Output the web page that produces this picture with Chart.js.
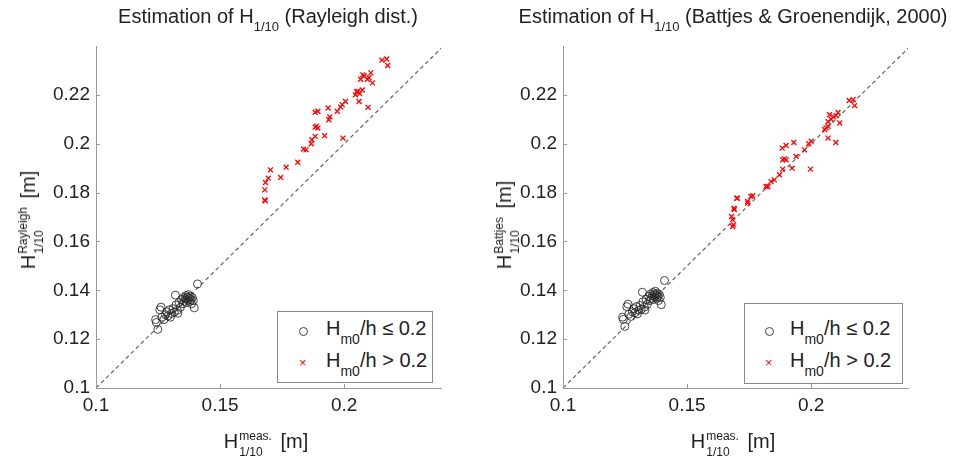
<!DOCTYPE html>
<html>
<head>
<meta charset="utf-8">
<script src="https://cdn.jsdelivr.net/npm/chart.js@4.4.0/dist/chart.umd.min.js"></script>
<style>
  body { margin: 0; background: #fff; font-family: "Liberation Sans", Arial, sans-serif; color: #222; }
  #wrap { position: relative; width: 954px; height: 460px; overflow: hidden; }
  canvas { position: absolute; top: 0; }
  .txt { position: absolute; white-space: nowrap; font-size: 20px; line-height: 20px; }
  .title { top: 6px; transform: translateX(-50%); }
  .title sub { font-size: 13px; vertical-align: -8px; line-height: 0; }
  .xlab { top: 428px; transform: translateX(-50%); }
  .ylab { transform: translate(-50%, -50%) rotate(-90deg); }
  .ss { display: inline-block; vertical-align: -8px; font-size: 12px; line-height: 16px; margin: 0 3px 0 1px; }
  .ss span { display: block; }
  .legend { position: absolute; border: 1px solid #888; background: #fff; box-sizing: border-box; }
  .row sub { font-size: 14px; vertical-align: -9px; line-height: 0; }
  .mk-o { position: absolute; width: 7px; height: 7px; border: 1px solid #444; border-radius: 50%; }
  .mk-x { position: absolute; color: #f00; font-size: 13px; line-height: 13px; }
</style>
</head>
<body>
<div id="wrap">
  <canvas id="left" width="477" height="460" style="left:0"></canvas>
  <canvas id="right" width="477" height="460" style="left:477px"></canvas>

  <div class="txt title" style="left:268px">Estimation of H<sub>1/10</sub> (Rayleigh dist.)</div>
  <div class="txt title" style="left:733px">Estimation of H<sub>1/10</sub> (Battjes &amp; Groenendijk, 2000)</div>

  <div class="txt xlab" style="left:266px">H<span class="ss"><span>meas.</span><span>1/10</span></span> [m]</div>
  <div class="txt xlab" style="left:733px">H<span class="ss"><span>meas.</span><span>1/10</span></span> [m]</div>

  <div class="txt ylab" style="left:31px; top:220px">H<span class="ss"><span>Rayleigh</span><span>1/10</span></span> [m]</div>
  <div class="txt ylab" style="left:507px; top:225px">H<span class="ss"><span>Battjes</span><span>1/10</span></span> [m]</div>

  <div class="legend" style="left:277px; top:311px; width:156px; height:72px"></div>
  <div class="mk-o" style="left:299px; top:327px"></div>
  <div class="mk-x" style="left:299px; top:356px">&#215;</div>
  <div class="txt row" style="left:326px; top:318px">H<sub>m0</sub>/h &#8804; 0.2</div>
  <div class="txt row" style="left:326px; top:350px">H<sub>m0</sub>/h &gt; 0.2</div>

  <div class="legend" style="left:744px; top:303px; width:159px; height:81px"></div>
  <div class="mk-o" style="left:765px; top:327px"></div>
  <div class="mk-x" style="left:765px; top:356px">&#215;</div>
  <div class="txt row" style="left:790px; top:318px">H<sub>m0</sub>/h &#8804; 0.2</div>
  <div class="txt row" style="left:790px; top:350px">H<sub>m0</sub>/h &gt; 0.2</div>
</div>

<script>
// measured H1/10 for the Hm0/h <= 0.2 cases, with both estimates
const measBlack = [0.1249, 0.1240, 0.1243, 0.1257, 0.1262, 0.1265, 0.1274, 0.1280, 0.1285, 0.1290,
  0.1295, 0.1300, 0.1305, 0.1310, 0.1315, 0.1320, 0.1322, 0.1328, 0.1330, 0.1335,
  0.1340, 0.1345, 0.1350, 0.1352, 0.1356, 0.1360, 0.1362, 0.1365, 0.1368, 0.1370,
  0.1372, 0.1375, 0.1378, 0.1380, 0.1382, 0.1385, 0.1388, 0.1392, 0.1396, 0.1409];
const rayleighBlack = [0.1240, 0.1280, 0.1268, 0.1320, 0.1331, 0.1290, 0.1280, 0.1300, 0.1312, 0.1295,
  0.1320, 0.1290, 0.1305, 0.1325, 0.1310, 0.1380, 0.1340, 0.1318, 0.1306, 0.1350,
  0.1330, 0.1362, 0.1345, 0.1370, 0.1355, 0.1365, 0.1378, 0.1350, 0.1372, 0.1360,
  0.1382, 0.1368, 0.1355, 0.1375, 0.1362, 0.1345, 0.1370, 0.1358, 0.1328, 0.1426];
const battjesBlack = [0.1252, 0.1290, 0.1281, 0.1333, 0.1343, 0.1302, 0.1293, 0.1312, 0.1325, 0.1308,
  0.1333, 0.1303, 0.1318, 0.1338, 0.1322, 0.1392, 0.1353, 0.1331, 0.1319, 0.1363,
  0.1343, 0.1375, 0.1358, 0.1384, 0.1368, 0.1378, 0.1391, 0.1363, 0.1385, 0.1373,
  0.1396, 0.1381, 0.1368, 0.1388, 0.1375, 0.1358, 0.1383, 0.1371, 0.1341, 0.1440];

// Hm0/h > 0.2 cases, Rayleigh panel
const rayleighRedX = [0.2171, 0.2152, 0.2175, 0.2107, 0.2080, 0.2093, 0.2114, 0.2066, 0.2075, 0.2100,
  0.2045, 0.2055, 0.2062, 0.2073, 0.2050, 0.2060, 0.2096, 0.2005, 0.1972, 0.1992,
  0.1985, 0.1935, 0.1938, 0.1942, 0.1894, 0.1883, 0.1883, 0.1894, 0.1888, 0.1883,
  0.1921, 0.1870, 0.1867, 0.1836, 0.1846, 0.1995, 0.1813, 0.1766, 0.1744, 0.1703,
  0.1694, 0.1683, 0.1680, 0.1680, 0.1682];
const rayleighRedY = [0.2347, 0.2342, 0.2320, 0.2290, 0.2277, 0.2264, 0.2249, 0.2264, 0.2282, 0.2270,
  0.2200, 0.2215, 0.2205, 0.2220, 0.2212, 0.2173, 0.2149, 0.2173, 0.2133, 0.2160,
  0.2150, 0.2146, 0.2098, 0.2110, 0.2133, 0.2129, 0.2068, 0.2064, 0.2072, 0.2030,
  0.2033, 0.2016, 0.2000, 0.1978, 0.1975, 0.2023, 0.1924, 0.1904, 0.1862, 0.1893,
  0.1859, 0.1841, 0.1811, 0.1770, 0.1766];

// Hm0/h > 0.2 cases, Battjes & Groenendijk panel
const battjesRedX = [0.2169, 0.2153, 0.2175, 0.2108, 0.2074, 0.2090, 0.2115, 0.2080, 0.2068, 0.2100,
  0.2054, 0.2068, 0.2060, 0.2099, 0.2068, 0.2000, 0.1973, 0.1990, 0.1930, 0.1883,
  0.1899, 0.1939, 0.1885, 0.1899, 0.1892, 0.1885, 0.1923, 0.1997, 0.1872, 0.1851,
  0.1838, 0.1818, 0.1825, 0.1764, 0.1757, 0.1744, 0.1744, 0.1700, 0.1703, 0.1689,
  0.1690, 0.1679, 0.1683, 0.1687, 0.1683];
const battjesRedY = [0.2180, 0.2177, 0.2156, 0.2128, 0.2119, 0.2110, 0.2085, 0.2100, 0.2090, 0.2115,
  0.2058, 0.2071, 0.2065, 0.2005, 0.2023, 0.2010, 0.1975, 0.2000, 0.2005, 0.1982,
  0.1993, 0.1948, 0.1934, 0.1934, 0.1938, 0.1896, 0.1900, 0.1896, 0.1873, 0.1852,
  0.1845, 0.1825, 0.1825, 0.1787, 0.1784, 0.1764, 0.1757, 0.1777, 0.1777, 0.1736,
  0.1730, 0.1702, 0.1689, 0.1668, 0.1661];

// 1:1 reference line end points
const diagLine = [0.1, 0.24];

const xRange = [0.1, 0.239];
const yRange = [0.1, 0.24];

const pts = (xs, ys) => xs.map((x, i) => ({ x, y: ys[i] }));

// MATLAB-like inward tick marks
const inTicks = {
  id: 'inTicks',
  afterDraw(chart) {
    const { ctx, chartArea: a, scales: { x, y } } = chart;
    ctx.save();
    ctx.strokeStyle = '#999';
    ctx.lineWidth = 1;
    x.ticks.forEach(t => {
      const px = Math.round(x.getPixelForValue(t.value)) + 0.5;
      ctx.beginPath(); ctx.moveTo(px, a.bottom); ctx.lineTo(px, a.bottom - 4); ctx.stroke();
    });
    y.ticks.forEach(t => {
      if (t.value > 0.23) return;
      const py = Math.round(y.getPixelForValue(t.value)) + 0.5;
      ctx.beginPath(); ctx.moveTo(a.left, py); ctx.lineTo(a.left + 4, py); ctx.stroke();
    });
    ctx.restore();
  }
};

function makeChart(id, blackY, redX, redY, leftW, padRight) {
  const tickFmt = v => v > 0.23 ? '' : String(+v.toFixed(2));
  return new Chart(document.getElementById(id), {
    type: 'scatter',
    data: {
      datasets: [
        {
          type: 'line',
          data: pts(diagLine, diagLine),
          borderColor: '#666',
          borderWidth: 1.2,
          borderDash: [4, 3],
          pointRadius: 0,
          order: 3
        },
        {
          data: pts(measBlack, blackY),
          pointStyle: 'circle',
          pointRadius: 4,
          borderColor: 'rgba(40,40,40,0.85)',
          backgroundColor: 'rgba(0,0,0,0)',
          borderWidth: 1,
          order: 2
        },
        {
          data: pts(redX, redY),
          pointStyle: 'crossRot',
          pointRadius: 3.5,
          borderColor: '#ff0000',
          borderWidth: 1.3,
          order: 1
        }
      ]
    },
    options: {
      responsive: false,
      animation: false,
      layout: { padding: { left: 0, top: 46, right: padRight, bottom: 0 } },
      plugins: { legend: { display: false }, tooltip: { enabled: false } },
      scales: {
        x: {
          type: 'linear', min: xRange[0], max: xRange[1],
          grid: { display: false, drawTicks: false, tickLength: 0 },
          border: { display: true, color: '#999', width: 1 },
          ticks: { stepSize: 0.05, includeBounds: false, padding: 6, color: '#222', maxRotation: 0,
                   font: { family: 'Liberation Sans', size: 19 }, callback: tickFmt },
          afterFit: s => { s.height = 72; }
        },
        y: {
          type: 'linear', min: yRange[0], max: yRange[1],
          grid: { display: false, drawTicks: false, tickLength: 0 },
          border: { display: true, color: '#999', width: 1 },
          ticks: { stepSize: 0.02, includeBounds: false, padding: 6, color: '#222',
                   font: { family: 'Liberation Sans', size: 19 }, callback: tickFmt },
          afterFit: s => { s.width = leftW; }
        }
      }
    },
    plugins: [inTicks]
  });
}

makeChart('left', rayleighBlack, rayleighRedX, rayleighRedY, 96, 36);
makeChart('right', battjesBlack, battjesRedX, battjesRedY, 86, 46);
</script>
</body>
</html>
